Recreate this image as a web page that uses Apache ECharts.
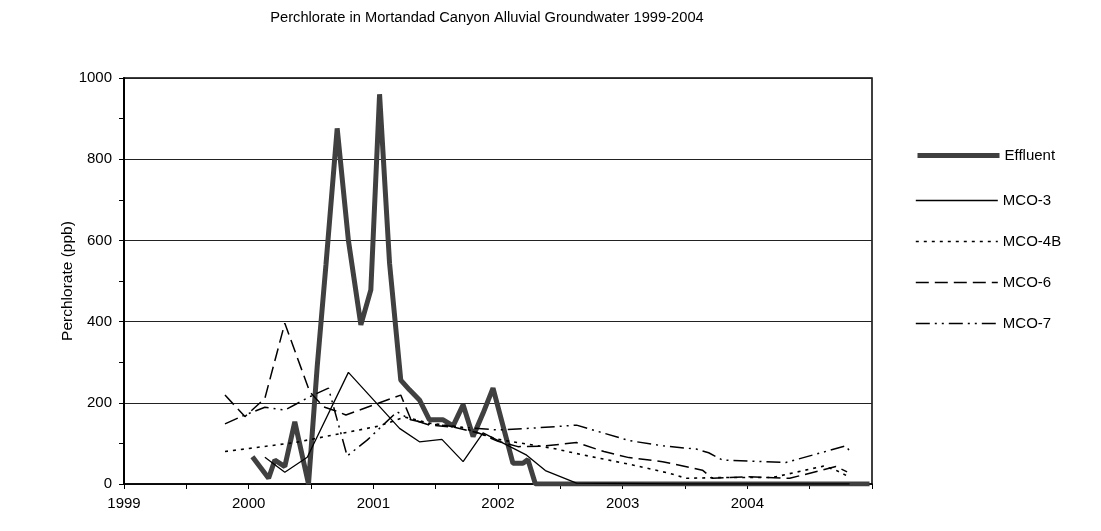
<!DOCTYPE html>
<html>
<head>
<meta charset="utf-8">
<title>Perchlorate in Mortandad Canyon</title>
<script src="https://cdn.jsdelivr.net/npm/echarts@6/dist/echarts.min.js"></script>
<style>
  html, body { margin: 0; padding: 0; background: #fff; }
  #chart { width: 1101px; height: 531px; }
</style>
</head>
<body>
<div id="chart"></div>
<script>
// 系列名 / 年份刻度
const seriesNames = ['Effluent', 'MCO-3', 'MCO-4B', 'MCO-6', 'MCO-7']
const yearLabels = [1999, 2000, 2001, 2002, 2003, 2004]

// 采样时间（小数年）与浓度 (ppb)
const effluentTime = [2000.03, 2000.16, 2000.21, 2000.29, 2000.37, 2000.48, 2000.55, 2000.62, 2000.71, 2000.80, 2000.90, 2000.98, 2001.05, 2001.13, 2001.22, 2001.29, 2001.37, 2001.45, 2001.56, 2001.64, 2001.72, 2001.80, 2001.88, 2001.96, 2002.12, 2002.20, 2002.24, 2002.30, 2004.98]
const effluentValue = [67, 14, 59, 43, 153, 0, 290, 540, 876, 600, 392, 478, 960, 544, 256, 232, 207, 158, 158, 143, 195, 117, 174, 236, 51, 51, 60, 0, 0]

const mco3Time = [2000.13, 2000.29, 2000.47, 2000.80, 2001.21, 2001.37, 2001.55, 2001.72, 2001.88, 2002.23, 2002.38, 2002.63, 2003.50, 2004.82]
const mco3Value = [66, 29, 66, 275, 137, 104, 110, 55, 126, 71, 33, 2, 0, 0]

const mco4bTime = [1999.81, 2000.37, 2000.75, 2001.05, 2001.25, 2001.45, 2001.70, 2002.00, 2002.44, 2002.63, 2002.82, 2003.08, 2003.38, 2003.51, 2003.80, 2004.20, 2004.61, 2004.71, 2004.80]
const mco4bValue = [80, 102, 125, 143, 165, 150, 140, 110, 88, 75, 63, 47, 26, 14, 16, 16, 44, 34, 20]

const mco6Time = [1999.81, 1999.97, 2000.13, 2000.29, 2000.49, 2000.60, 2000.70, 2000.78, 2001.05, 2001.22, 2001.30, 2001.45, 2001.65, 2001.85, 2002.00, 2002.16, 2002.35, 2002.63, 2002.85, 2003.05, 2003.32, 2003.64, 2003.72, 2004.00, 2004.34, 2004.71, 2004.80]
const mco6Value = [219, 166, 211, 396, 227, 190, 180, 170, 200, 219, 160, 145, 140, 125, 105, 92, 93, 102, 80, 65, 55, 34, 14, 18, 14, 43, 30]

const mco7Time = [1999.81, 1999.97, 2000.13, 2000.29, 2000.49, 2000.64, 2000.71, 2000.79, 2000.95, 2001.19, 2001.30, 2001.45, 2001.70, 2002.00, 2002.30, 2002.63, 2003.05, 2003.32, 2003.59, 2003.69, 2003.80, 2004.31, 2004.79, 2004.83]
const mco7Value = [148, 170, 189, 182, 215, 236, 158, 69, 108, 178, 158, 148, 140, 133, 138, 145, 107, 94, 86, 77, 59, 53, 94, 77]

function pairs(t, v) {
  return t.map(function (x, i) { return [x, v[i]] })
}

const font = 'Liberation Sans, Arial, sans-serif'
const legendText = { fontFamily: font, fontSize: 15, color: '#000' }

let myChart = echarts.init(document.getElementById('chart'))
let option = {
  animation: false,
  backgroundColor: '#fff',
  title: {
    text: 'Perchlorate in Mortandad Canyon Alluvial Groundwater 1999-2004',
    left: 482,
    top: 5,
    textAlign: 'center',
    textStyle: { fontFamily: font, fontSize: 14.7, fontWeight: 'normal', color: '#000' }
  },
  // 图例：Effluent 单独一组，其余四条等距；隐藏图例里的圆点
  legend: [
    {
      orient: 'vertical',
      left: 915,
      top: 148,
      padding: 0,
      itemWidth: 82,
      itemHeight: 14,
      itemStyle: { opacity: 0 },
      textStyle: legendText,
      data: [{ name: 'Effluent', lineStyle: { width: 5 } }]
    },
    {
      orient: 'vertical',
      left: 915,
      top: 193,
      padding: 0,
      itemWidth: 82,
      itemHeight: 14,
      itemGap: 26,
      itemStyle: { opacity: 0 },
      textStyle: legendText,
      data: [
        { name: 'MCO-3', lineStyle: { width: 1.3 } },
        { name: 'MCO-4B', lineStyle: { width: 1.6 } },
        { name: 'MCO-6', lineStyle: { width: 1.5 } },
        { name: 'MCO-7', lineStyle: { width: 1.5 } }
      ]
    }
  ],
  grid: {
    left: 124,
    right: 229,
    top: 78,
    bottom: 47,
    show: true,
    borderColor: '#000',
    borderWidth: 1.5
  },
  xAxis: {
    type: 'value',
    min: 1999,
    max: 2005,
    interval: 1,
    axisLine: { lineStyle: { color: '#000', width: 1.5 } },
    axisTick: { show: true, length: 5, lineStyle: { color: '#000' } },
    minorTick: { show: true, splitNumber: 2, length: 5, lineStyle: { color: '#000' } },
    splitLine: { show: false },
    axisLabel: {
      margin: 12,
      fontFamily: font,
      fontSize: 15,
      color: '#000',
      formatter: function (v) {
        return yearLabels.indexOf(v) >= 0 ? String(v) : ''
      }
    }
  },
  yAxis: {
    type: 'value',
    min: 0,
    max: 1000,
    interval: 200,
    name: 'Perchlorate (ppb)',
    nameLocation: 'middle',
    nameGap: 48,
    nameMoveOverlap: false,
    nameTextStyle: { fontFamily: font, fontSize: 15.5, color: '#000' },
    axisLine: { show: true, lineStyle: { color: '#000', width: 2 } },
    axisTick: { show: true, length: 5, lineStyle: { color: '#000' } },
    minorTick: { show: true, splitNumber: 2, length: 5, lineStyle: { color: '#000' } },
    splitLine: { show: true, lineStyle: { color: '#222', width: 1 } },
    axisLabel: {
      margin: 12,
      fontFamily: font,
      fontSize: 15,
      color: '#000',
      formatter: function (v) { return String(v) }
    }
  },
  series: [
    {
      name: seriesNames[0],
      type: 'line',
      symbol: 'none',
      lineStyle: { color: '#404040', width: 5 },
      itemStyle: { color: '#404040' },
      data: pairs(effluentTime, effluentValue)
    },
    {
      name: seriesNames[1],
      type: 'line',
      symbol: 'none',
      lineStyle: { color: '#000', width: 1.3 },
      itemStyle: { color: '#000' },
      data: pairs(mco3Time, mco3Value)
    },
    {
      name: seriesNames[2],
      type: 'line',
      symbol: 'none',
      lineStyle: { color: '#000', width: 1.6, type: [3, 5] },
      itemStyle: { color: '#000' },
      data: pairs(mco4bTime, mco4bValue)
    },
    {
      name: seriesNames[3],
      type: 'line',
      symbol: 'none',
      lineStyle: { color: '#000', width: 1.5, type: [13, 6] },
      itemStyle: { color: '#000' },
      data: pairs(mco6Time, mco6Value)
    },
    {
      name: seriesNames[4],
      type: 'line',
      symbol: 'none',
      lineStyle: { color: '#000', width: 1.5, type: [14, 5, 2, 5, 2, 5] },
      itemStyle: { color: '#000' },
      data: pairs(mco7Time, mco7Value)
    }
  ]
}
myChart.setOption(option)
</script>
</body>
</html>
